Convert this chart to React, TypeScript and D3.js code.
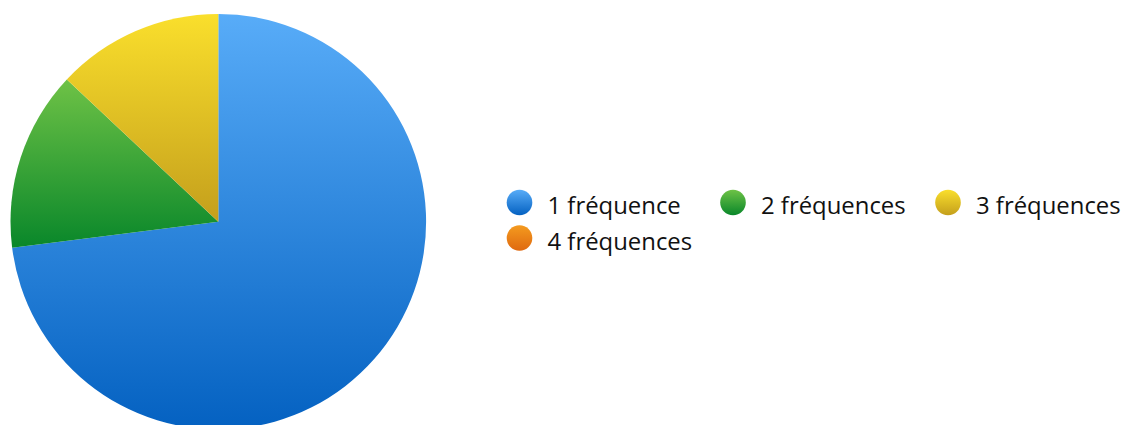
import React from "react";
import * as d3 from "d3";

// Slice shares per frequency count
const categories = ["1 fréquence", "2 fréquences", "3 fréquences", "4 fréquences"];
const values = [73, 14, 13, 0];
const topColors = ["#58acf8", "#6ec246", "#fadf2c", "#f49b1f"];
const bottomColors = ["#0461c1", "#09872a", "#c49f1c", "#df6910"];

const W = 1124;
const H = 440;
const cx = 218.3;
const cy = 221.7;
const radius = 207.8;

// legend layout
const legendCols = [519.5, 733, 948];
const legendRow0 = 202.5;
const legendRowGap = 35.5;
const legendR = 12.8;

export default function App() {
  const pie = d3.pie<number>().value((d) => d).sort(null);
  const arcs = pie(values);
  const arcGen = d3.arc<d3.PieArcDatum<number>>().innerRadius(0).outerRadius(radius);

  return (
    <svg
      width={W}
      height={H}
      style={{ position: "absolute", left: 0, top: 0, display: "block" }}
      fontFamily="'Source Sans Pro', 'Open Sans', sans-serif"
    >
      <defs>
        {categories.map((_, i) => (
          <linearGradient key={i} id={`g${i}`} x1="0" y1="0" x2="0" y2="1">
            <stop offset="0" stopColor={topColors[i]} />
            <stop offset="1" stopColor={bottomColors[i]} />
          </linearGradient>
        ))}
      </defs>
      <g transform={`translate(${cx},${cy})`}>
        {arcs.map((a, i) =>
          a.value > 0 ? <path key={i} d={arcGen(a) || ""} fill={`url(#g${i})`} /> : null
        )}
      </g>
      <g>
        {categories.map((c, i) => {
          const col = i % 3;
          const row = Math.floor(i / 3);
          const x = legendCols[col];
          const y = legendRow0 + row * legendRowGap;
          return (
            <g key={c} transform={`translate(${x},${y})`}>
              <circle r={legendR} fill={`url(#g${i})`} />
              <text x={28} y={11.5} fontSize={23.9} fill="#111">
                {c}
              </text>
            </g>
          );
        })}
      </g>
    </svg>
  );
}
